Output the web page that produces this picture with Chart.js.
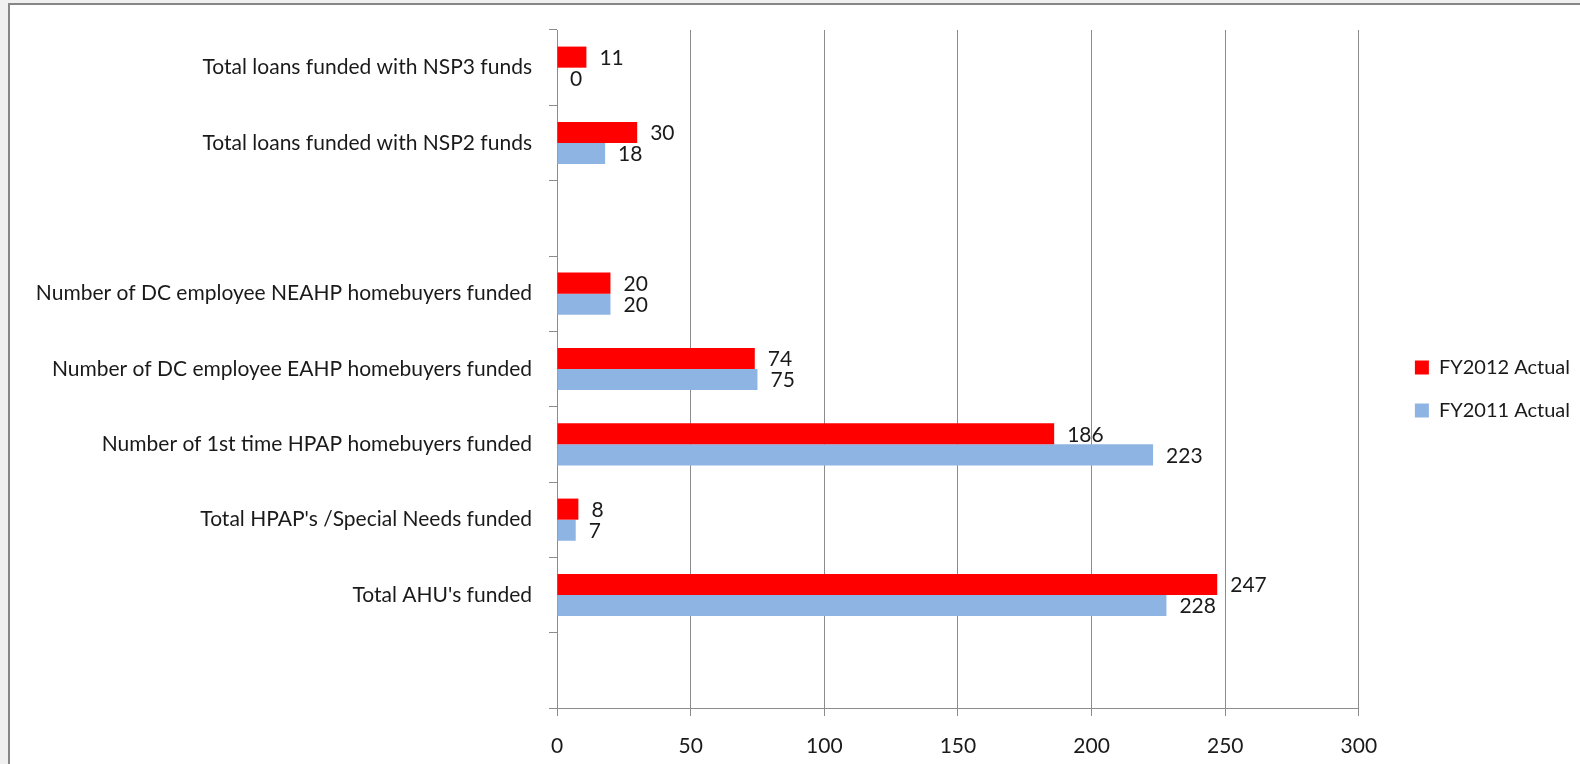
<!DOCTYPE html>
<html>
<head>
<meta charset="utf-8">
<script src="https://cdn.jsdelivr.net/npm/chart.js@4.4.0/dist/chart.umd.min.js"></script>
<style>
  html, body { margin: 0; padding: 0; background: #f0f0f0; overflow: hidden; }
  #frame { position: absolute; left: 8px; top: 3px; width: 1620px; height: 820px; background: #fff; border: 2px solid #878787; }
  #wrap { position: absolute; left: 0; top: 0; width: 1580px; height: 764px; }
</style>
</head>
<body>
<div id="frame"></div>
<div id="wrap"><canvas id="chart" width="1580" height="764"></canvas></div>
<script>
'use strict';

// categories, top to bottom ('' = empty slot in the original)
const categories = [
  'Total loans funded with NSP3 funds',
  'Total loans funded with NSP2 funds',
  '',
  'Number of DC employee NEAHP homebuyers funded',
  'Number of DC employee EAHP homebuyers funded',
  'Number of 1st time HPAP homebuyers funded',
  "Total HPAP's /Special Needs funded",
  "Total AHU's funded",
  ''
];
const fy2012 = [11, 30, null, 20, 74, 186, 8, 247, null];
const fy2011 = [0, 18, null, 20, 75, 223, 7, 228, null];
const xTicks = [0, 50, 100, 150, 200, 250, 300];

const FONT = 'Lato';
const TEXT = '#1a1a1a';
const GRID = '#8c8c8c';

// value labels to the right of each bar
const valueLabels = {
  id: 'valueLabels',
  afterDatasetsDraw(chart) {
    const ctx = chart.ctx;
    ctx.save();
    ctx.font = '21px ' + FONT;
    ctx.fillStyle = TEXT;
    ctx.textAlign = 'left';
    ctx.textBaseline = 'middle';
    chart.data.datasets.forEach((ds, i) => {
      chart.getDatasetMeta(i).data.forEach((bar, j) => {
        if (ds.data[j] === null) return;
        ctx.fillText(ds.data[j], bar.x + 13, bar.y + 1);
      });
    });
    ctx.restore();
  }
};

// empty box between plot and legend
const legendGap = {
  id: 'legendGap',
  beforeInit(chart) {
    Chart.layouts.addBox(chart, {
      position: 'right', weight: 500, fullSize: false, options: {},
      left: 0, top: 0, right: 0, bottom: 0, width: 0, height: 0,
      isHorizontal() { return false; },
      update(maxWidth, maxHeight) { this.width = 33; this.height = maxHeight; },
      getPadding() { return {left: 0, top: 0, right: 0, bottom: 0}; },
      draw() {}
    });
  }
};

const ctx = document.getElementById('chart').getContext('2d');
new Chart(ctx, {
  type: 'bar',
  data: {
    labels: categories,
    datasets: [
      { label: 'FY2012 Actual', data: fy2012, backgroundColor: '#ff0000' },
      { label: 'FY2011 Actual', data: fy2011, backgroundColor: '#8eb4e3' }
    ]
  },
  options: {
    indexAxis: 'y',
    responsive: false,
    animation: false,
    categoryPercentage: 0.56,
    barPercentage: 1.0,
    layout: { padding: { top: 30, right: 0, bottom: 0, left: 0 } },
    scales: {
      x: {
        min: 0, max: 300,
        afterBuildTicks(scale) { scale.ticks = xTicks.map(v => ({ value: v })); },
        afterFit(scale) { scale.height = 56; },
        grid: { color: GRID, tickLength: 8, lineWidth: 1 },
        border: { color: GRID },
        ticks: { color: TEXT, font: { family: FONT, size: 21 }, padding: 18 }
      },
      y: {
        afterFit(scale) { scale.width = 557; },
        grid: { drawOnChartArea: false, color: GRID, tickLength: 8 },
        border: { color: GRID },
        ticks: { color: TEXT, font: { family: FONT, size: 21 }, padding: 17, autoSkip: false }
      }
    },
    plugins: {
      legend: {
        position: 'right',
        fullSize: false,
        title: { display: true, text: ' ', font: { size: 10 }, padding: { top: 14, bottom: 14 } },
        labels: { boxWidth: 14, boxHeight: 14, padding: 23, color: TEXT, font: { family: FONT, size: 20 } }
      },
      tooltip: { enabled: false }
    }
  },
  plugins: [valueLabels, legendGap]
});
</script>
</body>
</html>
